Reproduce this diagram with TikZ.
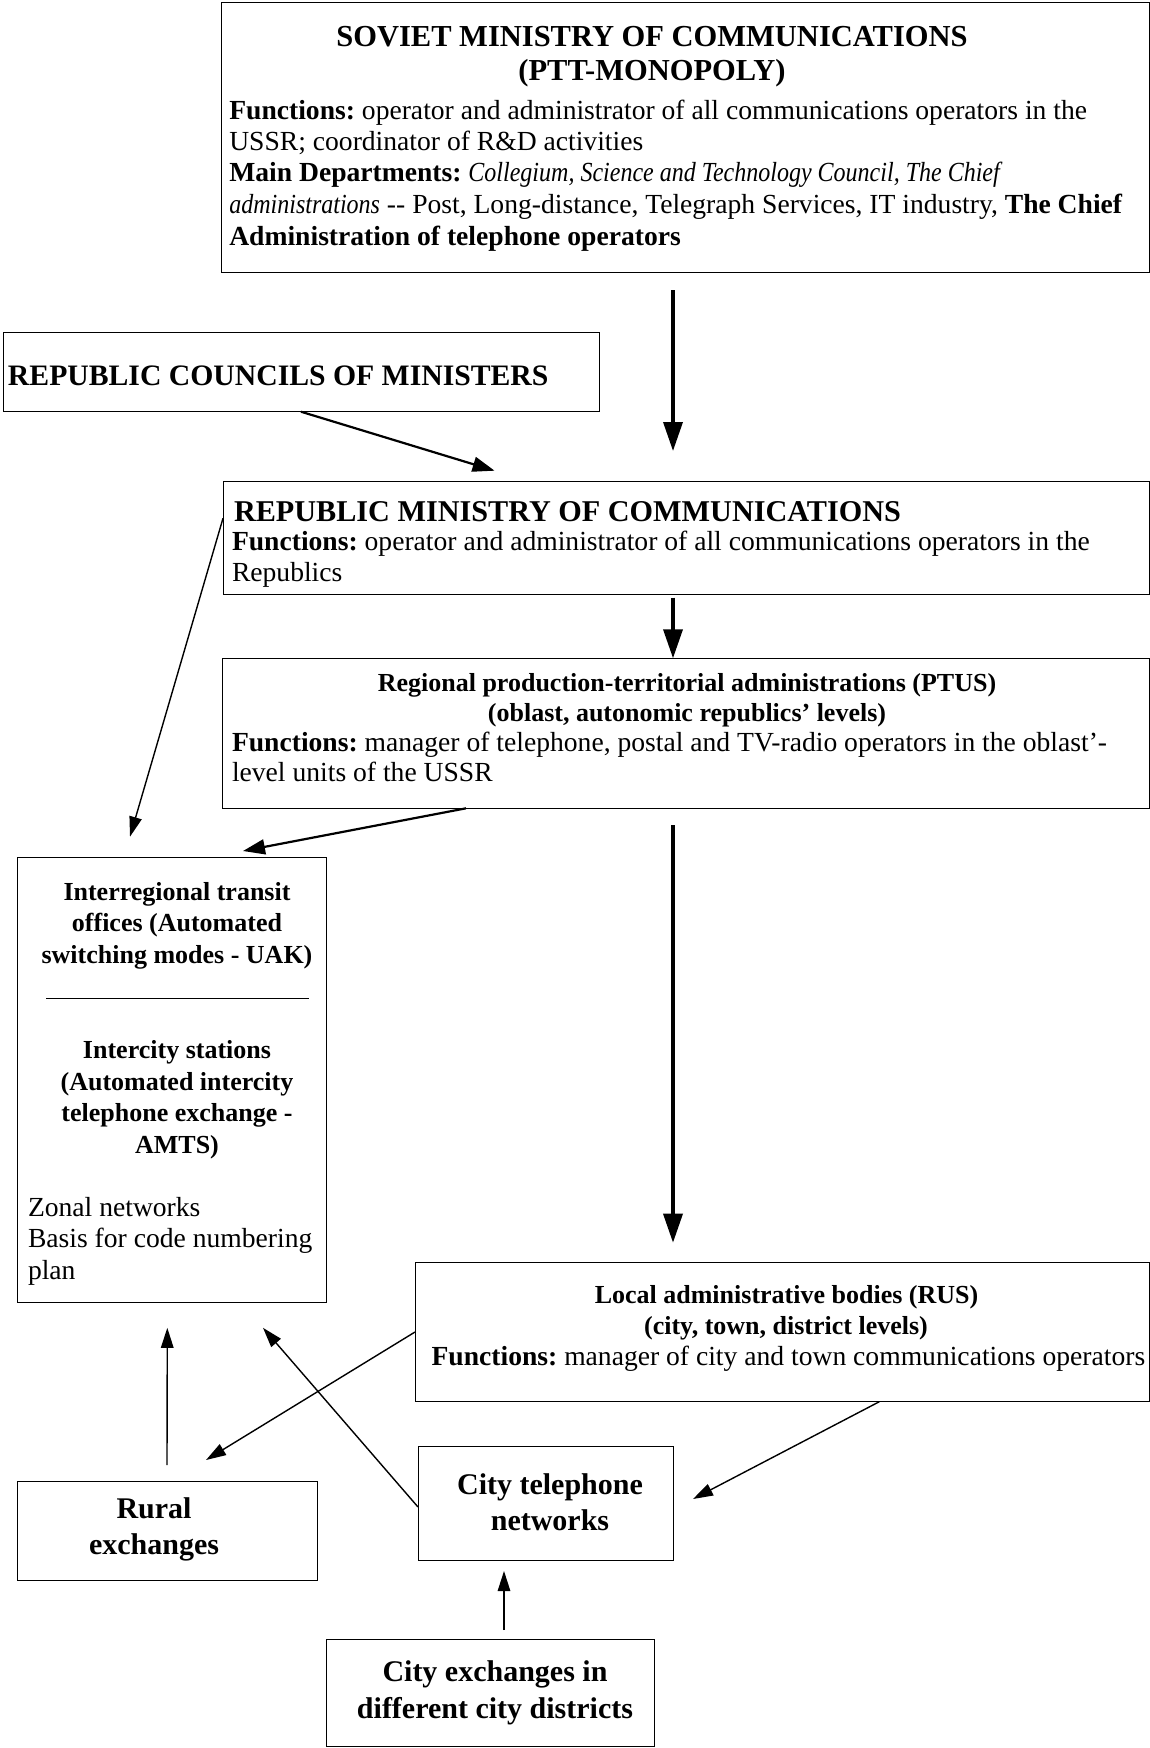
\documentclass[tikz,border=0pt]{standalone}
\usepackage{fontspec}
\setmainfont{Liberation Serif}[ItalicFeatures={FakeStretch=0.87}]
\usetikzlibrary{arrows.meta}
\frenchspacing
\newcommand{\fT}{\fontsize{30.5}{34}\selectfont\bfseries}
\newcommand{\fTc}{\fontsize{29.7}{34}\selectfont\bfseries}
\newcommand{\fTr}{\fontsize{30.2}{34}\selectfont\bfseries}
\newcommand{\fB}{\fontsize{27.6}{31}\selectfont\frenchspacing}
\newcommand{\fS}{\fontsize{26}{30}\selectfont\bfseries}
\newcommand{\fL}{\fontsize{30}{36}\selectfont\bfseries}
\tikzset{
  box/.style={draw, line width=1pt, inner sep=0pt, outer sep=0pt, anchor=north west},
  tl/.style={inner sep=0pt, outer sep=0pt, anchor=base west},
  tc/.style={inner sep=0pt, outer sep=0pt, anchor=base},
  thickarr/.style={line width=3.5pt, -{Triangle[length=29pt,width=19pt]}},
  medarr/.style={line width=2.2pt, -{Triangle[length=22pt,width=15pt]}},
  thinarr/.style={line width=1.4pt, -{Triangle[length=20pt,width=12.5pt]}},
}
\begin{document}
\begin{tikzpicture}[x=1pt,y=-1pt]
\useasboundingbox[fill=white] (0,0) rectangle (1150,1748);

% boxes
\node[box, minimum width=928pt, minimum height=270.5pt] (soviet) at (221,2) {};
\node[box, minimum width=596pt, minimum height=79.4pt] (councils) at (3.6,332.3) {};
\node[box, minimum width=926pt, minimum height=113pt] (repmin) at (223,481) {};
\node[box, minimum width=927pt, minimum height=150pt] (ptus) at (222,658.3) {};
\node[box, minimum width=309.4pt, minimum height=445pt] (inter) at (17.3,857.3) {};
\node[box, minimum width=734pt, minimum height=139pt] (local) at (415,1262.7) {};
\node[box, minimum width=300pt, minimum height=99pt] (rural) at (17,1481) {};
\node[box, minimum width=255pt, minimum height=113.3pt] (citynet) at (418,1446.7) {};
\node[box, minimum width=328pt, minimum height=107pt] (cityex) at (326,1639) {};

% soviet texts
\node[tc, font=\fT] (st1) at (652,46.7) {SOVIET MINISTRY OF COMMUNICATIONS};
\node[tc, font=\fT] (st2) at (652,80) {(PTT-MONOPOLY)};
\node[tl, font=\fB] (sb1) at (229.3,119) {\textbf{Functions:} operator and administrator of all communications operators in the};
\node[tl, font=\fB] (sb2) at (229.3,150) {USSR; coordinator of R\&D activities};
\node[tl, font=\fB] (sb3) at (229.3,181.7) {\textbf{Main Departments:} \textit{Collegium, Science and Technology Council, The Chief}};
\node[tl, font=\fB] (sb4) at (229.3,213.3) {\textit{administrations} -{}- Post, Long-distance, Telegraph Services, IT industry, \textbf{The Chief}};
\node[tl, font=\fB] (sb5) at (229.3,245) {\textbf{Administration of telephone operators}};

% councils
\node[tl, font=\fTc] (ct) at (8,385) {REPUBLIC COUNCILS OF MINISTERS};

% republic ministry
\node[tl, font=\fTr] (rt) at (234,521.7) {REPUBLIC MINISTRY OF COMMUNICATIONS};
\node[tl, font=\fB] (rb1) at (232,550) {\textbf{Functions:} operator and administrator of all communications operators in the};
\node[tl, font=\fB] (rb2) at (232,581.7) {Republics};

% ptus
\node[tc, font=\fS] (pt1) at (687,691.7) {Regional production-territorial administrations (PTUS)};
\node[tc, font=\fS] (pt2) at (687,721.7) {(oblast, autonomic republics' levels)};
\node[tl, font=\fB] (pb1) at (232,751.7) {\textbf{Functions:} manager of telephone, postal and TV-radio operators in the oblast'-};
\node[tl, font=\fB] (pb2) at (232,781.7) {level units of the USSR};

% interregional
\node[tc, font=\fS] (it1) at (177,900.7) {Interregional transit};
\node[tc, font=\fS] (it2) at (177,931.7) {offices (Automated};
\node[tc, font=\fS] (it3) at (177,963.3) {switching modes - UAK)};
\draw[line width=1pt] ([xshift=29pt,yshift=-141pt]inter.north west) -- ([xshift=292pt,yshift=-141pt]inter.north west);
\node[tc, font=\fS] (ic1) at (177,1058.3) {Intercity stations};
\node[tc, font=\fS] (ic2) at (177,1090) {(Automated intercity};
\node[tc, font=\fS] (ic3) at (177,1121.7) {telephone exchange -};
\node[tc, font=\fS] (ic4) at (177,1153.3) {AMTS)};
\node[tl, font=\fB] (iz1) at (28,1216) {Zonal networks};
\node[tl, font=\fB] (iz2) at (28,1247.5) {Basis for code numbering};
\node[tl, font=\fB] (iz3) at (28,1279) {plan};

% local
\node[tc, font=\fS] (lt1) at (786.5,1303.3) {Local administrative bodies (RUS)};
\node[tc, font=\fS] (lt2) at (786,1334) {(city, town, district levels)};
\node[tl, font=\fB] (lb1) at (431.6,1365.7) {\textbf{Functions:} manager of city and town communications operators};

% bottom boxes
\node[tc, font=\fL] (ru1) at (154,1518) {Rural};
\node[tc, font=\fL] (ru2) at (154,1554.5) {exchanges};
\node[tc, font=\fL] (cn1) at (550,1494) {City telephone};
\node[tc, font=\fL] (cn2) at (550,1530) {networks};
\node[tc, font=\fL] (ce1) at (495,1681.7) {City exchanges in};
\node[tc, font=\fL] (ce2) at (495,1718.3) {different city districts};

% free arrow tips
\coordinate (a1t) at (673,451);
\coordinate (a2t) at (494.6,470.7);
\coordinate (a4t) at (130,836.7);
\coordinate (a5t) at (243,851);
\coordinate (a6t) at (673,1242.7);
\coordinate (a7t) at (206,1460);
\coordinate (a8t) at (693,1499);

% connectors
\draw[thickarr] ([xshift=452pt,yshift=-17.5pt]soviet.south west) -- (a1t);
\draw[medarr] ([xshift=297.4pt]councils.south west) -- (a2t);
\draw[thickarr] ([xshift=450pt,yshift=-3.7pt]repmin.south west) -- ([xshift=451pt]ptus.north west);
\draw[thinarr] ([yshift=-37.3pt]repmin.north west) -- (a4t);
\draw[medarr] ([xshift=244pt]ptus.south west) -- (a5t);
\draw[thickarr] ([xshift=451pt,yshift=-17pt]ptus.south west) -- (a6t);
\draw[thinarr] ([yshift=-69.3pt]local.north west) -- (a7t);
\draw[thinarr] ([xshift=464.3pt]local.south west) -- (a8t);
\draw[thinarr] ([xshift=150pt,yshift=16pt]rural.north west) -- ([xshift=150pt,yshift=-25.5pt]inter.south west);
\draw[thinarr] ([yshift=-60.3pt]citynet.north west) -- ([xshift=245.7pt,yshift=-25.5pt]inter.south west);
\draw[thinarr] ([xshift=178pt,yshift=9pt]cityex.north west) -- ([xshift=86pt,yshift=-11pt]citynet.south west);
\end{tikzpicture}
\end{document}
